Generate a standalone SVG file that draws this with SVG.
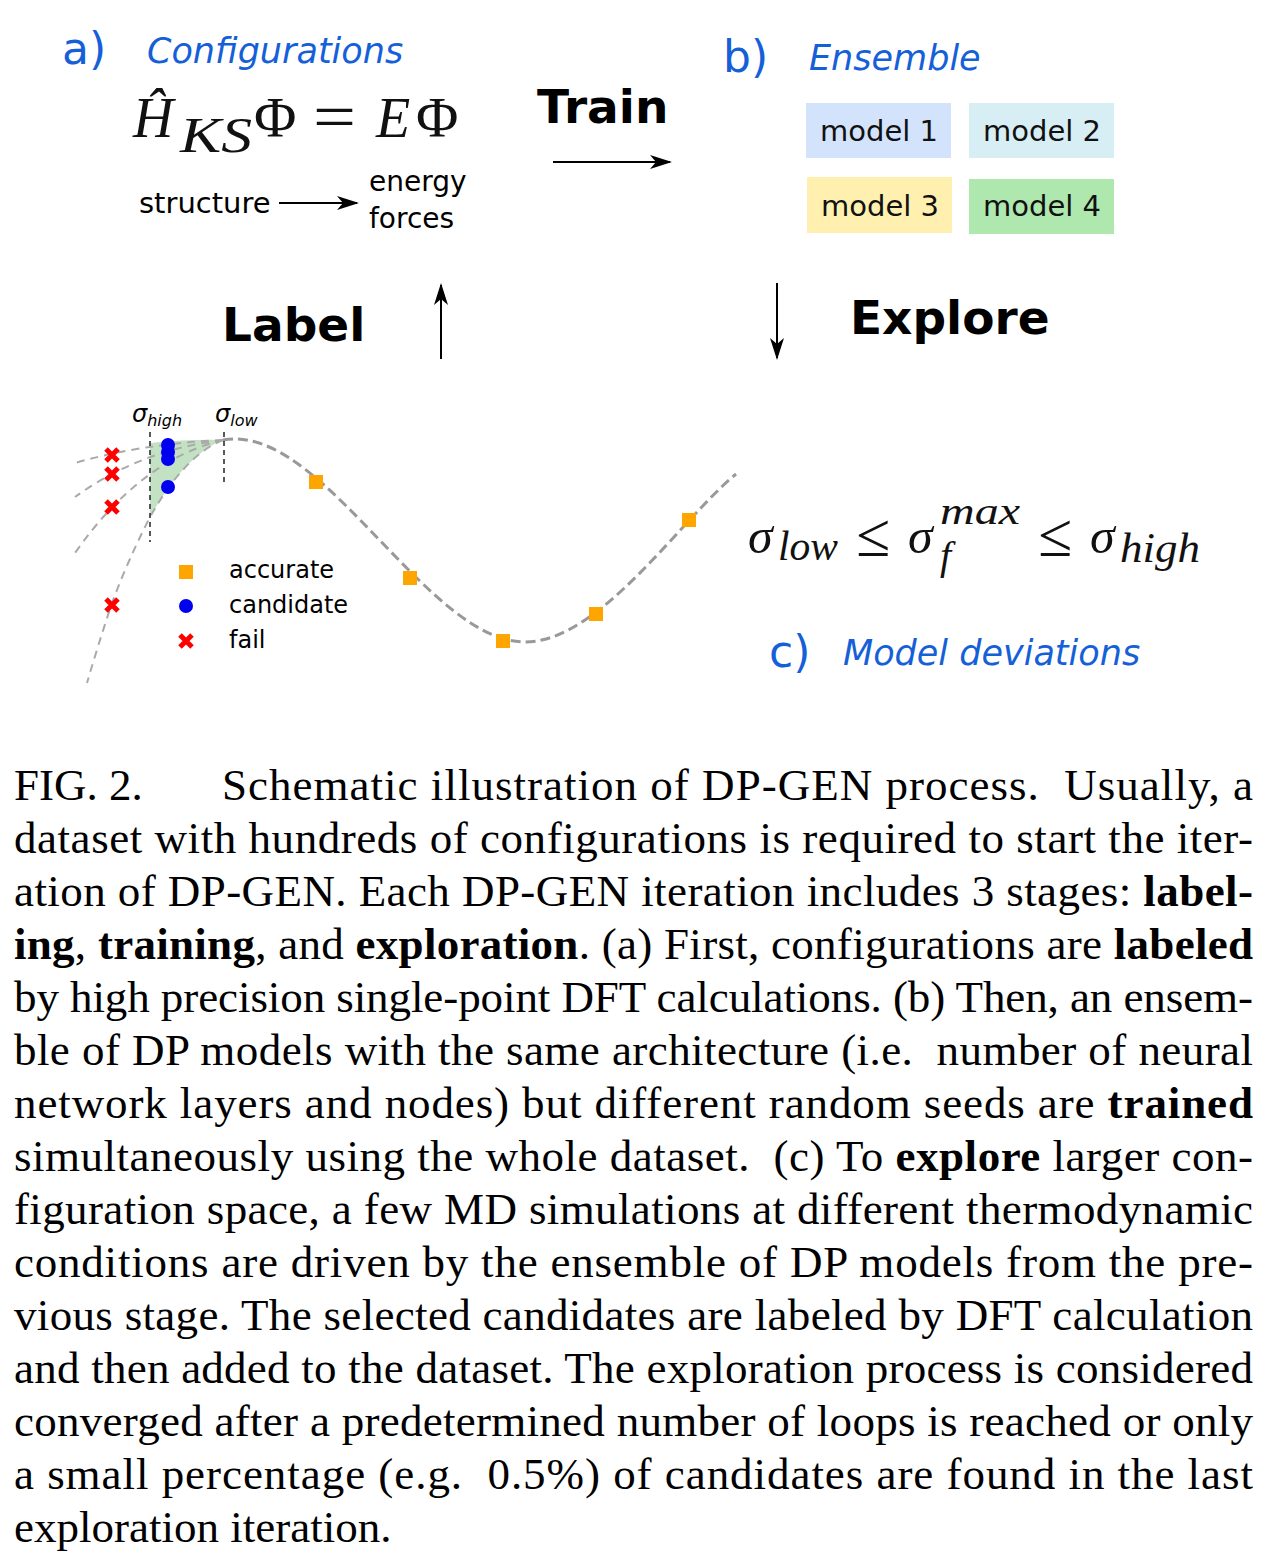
<svg xmlns="http://www.w3.org/2000/svg" width="1278" height="1557" viewBox="0 0 1278 1557">
<style>
.blue{fill:#1560d8;font-family:"DejaVu Sans",sans-serif}
.it{font-style:italic}
.sans{font-family:"DejaVu Sans",sans-serif;fill:#000}
.bold{font-family:"DejaVu Sans",sans-serif;font-weight:bold;fill:#000;font-size:47px}
.math{font-family:"Liberation Serif",serif;fill:#111}
.cap{font-family:"Liberation Serif",serif;font-size:45px;fill:#000}
.b{font-weight:bold}
.model{font-family:"DejaVu Sans",sans-serif;font-size:29px;fill:#111;text-anchor:middle}
.arr{stroke:#000;stroke-width:2;fill:none}
.curve{stroke:#999;stroke-width:3;fill:none;stroke-dasharray:10 5}
.branch{stroke:#aaa;stroke-width:2;fill:none;stroke-dasharray:8 6}
.vdash{stroke:#222;stroke-width:1.5;stroke-dasharray:5 4}
.sq{fill:#ffa500}
.dot{fill:#0000ee}
.x{stroke:#ff0000;stroke-width:5;stroke-linecap:butt}
</style>
<defs>
<marker id="ah" viewBox="0 0 22 14" refX="20" refY="7" markerWidth="22" markerHeight="14" markerUnits="userSpaceOnUse" orient="auto">
<path d="M0,0 L22,7 L0,14 L6,7 Z" fill="#000"/>
</marker>
</defs>
<rect width="1278" height="1557" fill="#fff"/>

<g id="panel-a">
<text x="62" y="64" class="blue" font-size="44">a)</text>
<text x="147" y="63" class="blue it" font-size="35">Configurations</text>
<text x="133" y="137" class="math it" font-size="56">Ĥ</text>
<text x="180" y="152" class="math it" font-size="50" textLength="72" lengthAdjust="spacingAndGlyphs">KS</text>
<text x="254" y="137" class="math" font-size="58">Φ</text>
<text x="313" y="139" class="math" font-size="66" textLength="43" lengthAdjust="spacingAndGlyphs">=</text>
<text x="376" y="137" class="math it" font-size="56">E</text>
<text x="416" y="137" class="math" font-size="58">Φ</text>
<text x="139" y="213" class="sans" font-size="29">structure</text>
<text x="369" y="191" class="sans" font-size="28">energy</text>
<text x="369" y="228" class="sans" font-size="28">forces</text>
</g>

<g id="panel-b">
<text x="723" y="72" class="blue" font-size="44">b)</text>
<text x="809" y="70" class="blue it" font-size="35">Ensemble</text>
<g id="model1"><rect x="806" y="103" width="145" height="55" fill="#d4e3fc"/><text x="879" y="141" class="model">model 1</text></g>
<g id="model2"><rect x="969" y="103" width="145" height="55" fill="#d7eef4"/><text x="1042" y="141" class="model">model 2</text></g>
<g id="model3"><rect x="807" y="177" width="145" height="56" fill="#fff0b0"/><text x="880" y="216" class="model">model 3</text></g>
<g id="model4"><rect x="969" y="179" width="145" height="55" fill="#aee8ae"/><text x="1042" y="216" class="model">model 4</text></g>
</g>

<g id="stage-labels">
<text x="537" y="123" class="bold">Train</text>
<text x="222" y="341" class="bold">Label</text>
<text x="850" y="334" class="bold">Explore</text>
</g>

<g id="connectors">
<line x1="279" y1="203" x2="357" y2="203" class="arr" marker-end="url(#ah)"/>
<line x1="553" y1="162" x2="670" y2="162" class="arr" marker-end="url(#ah)"/>
<line x1="441" y1="359" x2="441" y2="285" class="arr" marker-end="url(#ah)"/>
<line x1="777" y1="283" x2="777" y2="358" class="arr" marker-end="url(#ah)"/>
</g>

<g id="panel-c">
<path d="M150,443 Q190,439 223,440 Q185,455 150,517 Z" fill="#c3e2c3"/>
<path d="M223,440 Q140,444 75,463" class="branch"/>
<path d="M223,440 Q140,450 75,497" class="branch"/>
<path d="M223,440 Q140,460 75,553" class="branch"/>
<path d="M223,440 Q185,455 150,517 Q128,560 112,603 Q98,645 87,683" class="branch"/>
<path id="main-curve" class="curve" d="M223,440 C229,439 232,439 235,439 C330,439 430,642 525,642 C600,642 680,520 736,474"/>
<line x1="150" y1="432" x2="150" y2="542" class="vdash"/>
<line x1="224" y1="432" x2="224" y2="482" class="vdash"/>
<text x="132" y="422" class="sans it" font-size="24">σ<tspan font-size="16" dy="4">high</tspan></text>
<text x="215" y="422" class="sans it" font-size="24">σ<tspan font-size="16" dy="4">low</tspan></text>
<circle cx="168" cy="445" r="7" class="dot"/>
<circle cx="168" cy="452" r="7" class="dot"/>
<circle cx="168" cy="459" r="7" class="dot"/>
<circle cx="168" cy="487" r="7" class="dot"/>
<g class="x">
<path d="M106,449 l12,12 m0,-12 l-12,12"/>
<path d="M106,468 l12,12 m0,-12 l-12,12"/>
<path d="M106,501 l12,12 m0,-12 l-12,12"/>
<path d="M106,599 l12,12 m0,-12 l-12,12"/>
<path d="M180,635 l12,12 m0,-12 l-12,12"/>
</g>
<rect x="309" y="475" width="14" height="14" class="sq"/>
<rect x="403" y="571" width="14" height="14" class="sq"/>
<rect x="496" y="634" width="14" height="14" class="sq"/>
<rect x="589" y="607" width="14" height="14" class="sq"/>
<rect x="682" y="513" width="14" height="14" class="sq"/>
<rect x="179" y="565" width="14" height="14" class="sq"/>
<circle cx="186" cy="606" r="7" class="dot"/>
<text x="229" y="578" class="sans" font-size="24">accurate</text>
<text x="229" y="613" class="sans" font-size="24">candidate</text>
<text x="229" y="648" class="sans" font-size="24">fail</text>
<text x="748" y="553" class="math it" font-size="50">σ</text>
<text x="778" y="560" class="math it" font-size="42" textLength="60" lengthAdjust="spacingAndGlyphs">low</text>
<text x="856" y="556" class="math" font-size="62">≤</text>
<text x="908" y="553" class="math it" font-size="50">σ</text>
<text x="940" y="524" class="math it" font-size="38" textLength="80" lengthAdjust="spacingAndGlyphs">max</text>
<text x="940" y="569" class="math it" font-size="40">f</text>
<text x="1038" y="556" class="math" font-size="62">≤</text>
<text x="1090" y="553" class="math it" font-size="50">σ</text>
<text x="1120" y="562" class="math it" font-size="42" textLength="80" lengthAdjust="spacingAndGlyphs">high</text>
<text x="769" y="667" class="blue" font-size="44">c)</text>
<text x="843" y="665" class="blue it" font-size="35">Model deviations</text>
</g>

<g id="caption">
<text x="14" y="800" class="cap">FIG. 2.</text>
<text x="222" y="800" class="cap" textLength="1031" lengthAdjust="spacing">Schematic illustration of DP-GEN process.&#160; Usually, a</text>
<text x="14" y="853" class="cap" textLength="1239" lengthAdjust="spacing">dataset with hundreds of configurations is required to start the iter-</text>
<text x="14" y="906" class="cap" textLength="1239" lengthAdjust="spacing">ation of DP-GEN. Each DP-GEN iteration includes 3 stages: <tspan class="b">label-</tspan></text>
<text x="14" y="959" class="cap" textLength="1239" lengthAdjust="spacing"><tspan class="b">ing</tspan>, <tspan class="b">training</tspan>, and <tspan class="b">exploration</tspan>. (a) First, configurations are <tspan class="b">labeled</tspan></text>
<text x="14" y="1012" class="cap" textLength="1239" lengthAdjust="spacing">by high precision single-point DFT calculations. (b) Then, an ensem-</text>
<text x="14" y="1065" class="cap" textLength="1239" lengthAdjust="spacing">ble of DP models with the same architecture (i.e.&#160; number of neural</text>
<text x="14" y="1118" class="cap" textLength="1239" lengthAdjust="spacing">network layers and nodes) but different random seeds are <tspan class="b">trained</tspan></text>
<text x="14" y="1171" class="cap" textLength="1239" lengthAdjust="spacing">simultaneously using the whole dataset.&#160; (c) To <tspan class="b">explore</tspan> larger con-</text>
<text x="14" y="1224" class="cap" textLength="1239" lengthAdjust="spacing">figuration space, a few MD simulations at different thermodynamic</text>
<text x="14" y="1277" class="cap" textLength="1239" lengthAdjust="spacing">conditions are driven by the ensemble of DP models from the pre-</text>
<text x="14" y="1330" class="cap" textLength="1239" lengthAdjust="spacing">vious stage. The selected candidates are labeled by DFT calculation</text>
<text x="14" y="1383" class="cap" textLength="1239" lengthAdjust="spacing">and then added to the dataset. The exploration process is considered</text>
<text x="14" y="1436" class="cap" textLength="1239" lengthAdjust="spacing">converged after a predetermined number of loops is reached or only</text>
<text x="14" y="1489" class="cap" textLength="1239" lengthAdjust="spacing">a small percentage (e.g.&#160; 0.5%) of candidates are found in the last</text>
<text x="14" y="1542" class="cap">exploration iteration.</text>
</g>
</svg>
